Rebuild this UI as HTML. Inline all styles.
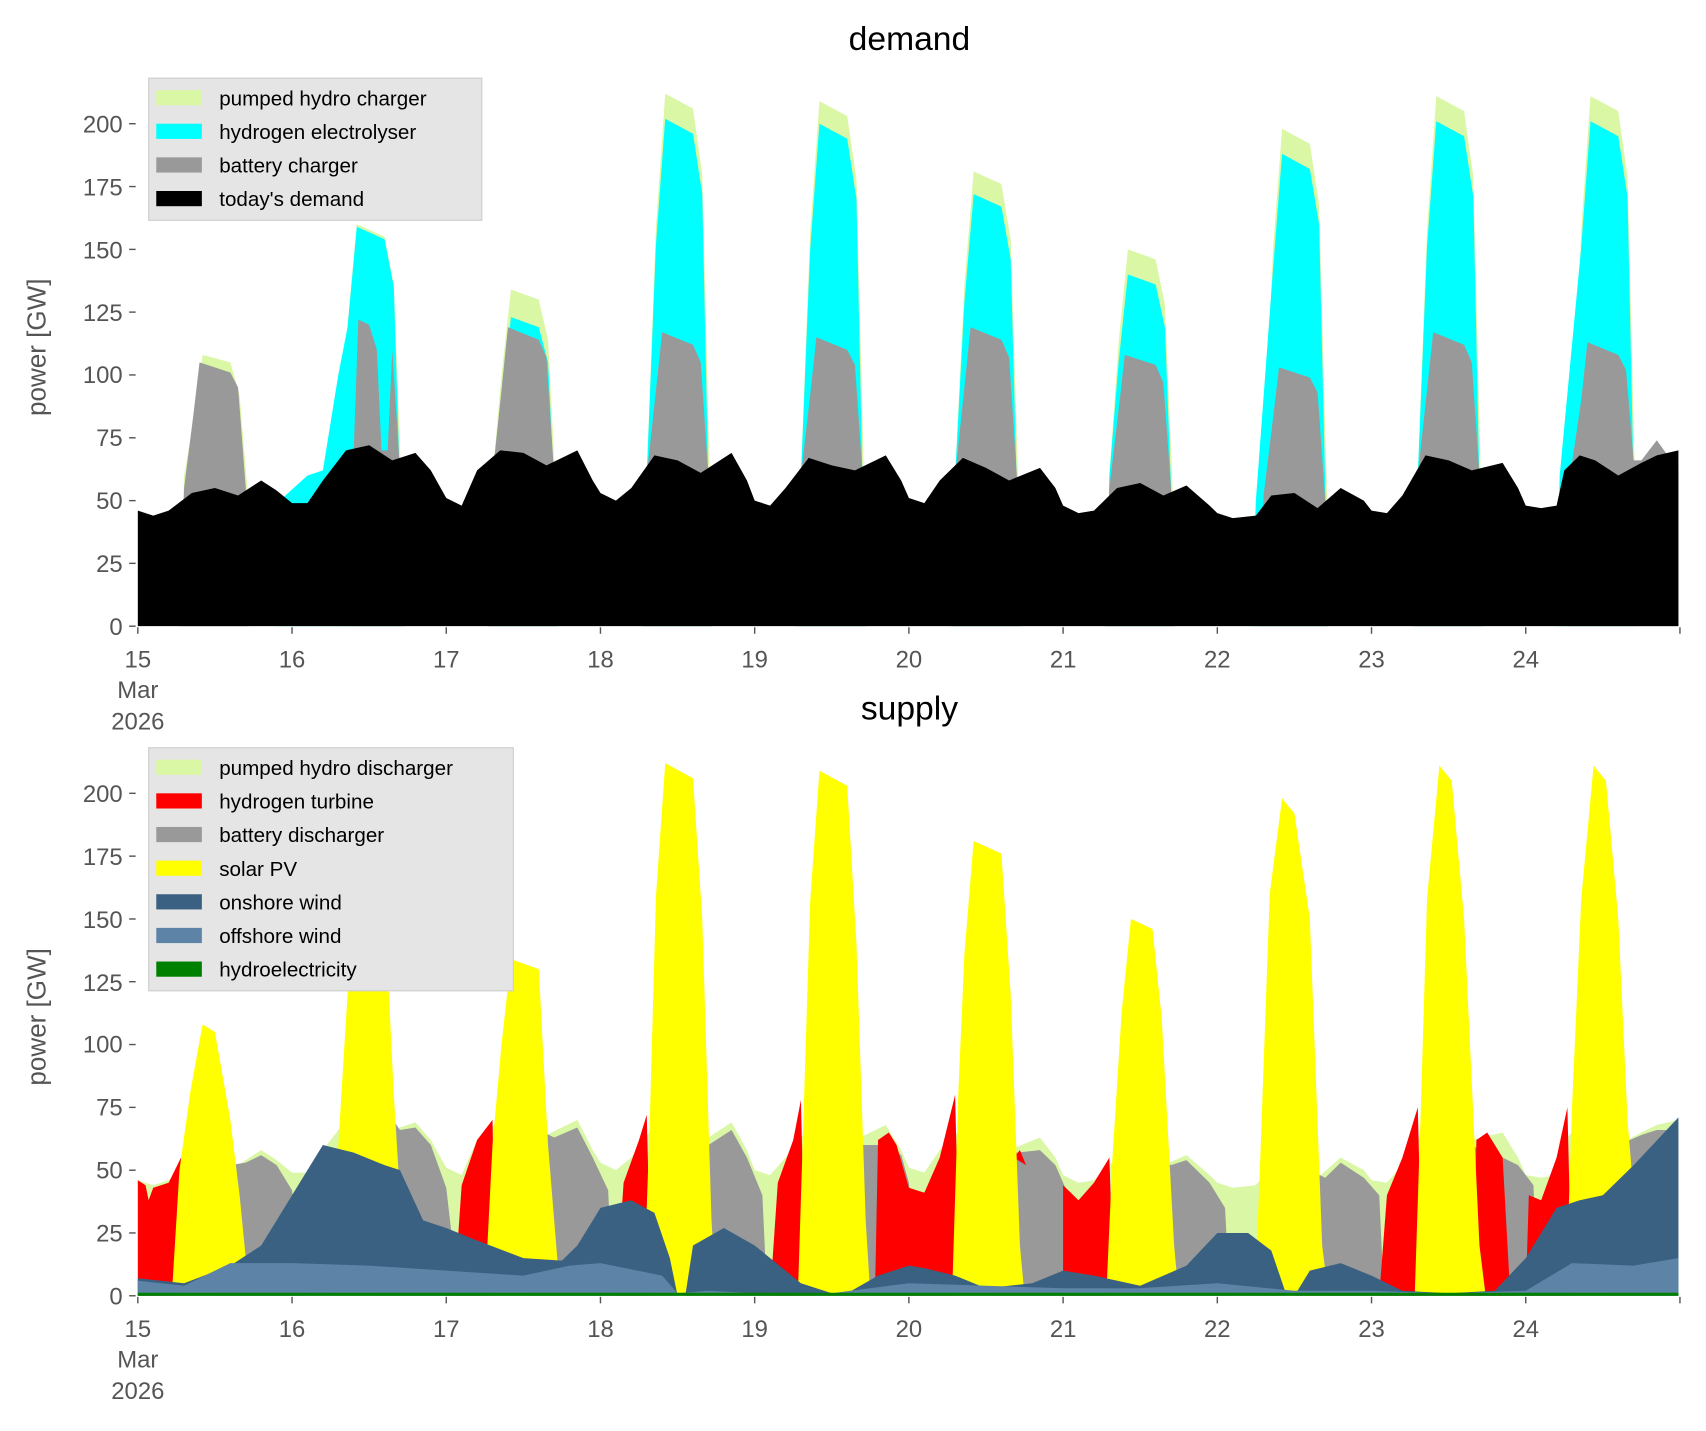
<!DOCTYPE html>
<html><head><meta charset="utf-8"><style>body{margin:0;background:#fff}svg{display:block}</style></head>
<body>
<svg xmlns="http://www.w3.org/2000/svg" width="1706" height="1431" viewBox="0 0 1572 1318.6" font-family="Liberation Sans, DejaVu Sans, sans-serif">
<rect width="1572" height="1319" fill="#fff"/>
<defs>
<polygon id="base" points="0,0 0,46 .1,44 .2,46 .35,53 .5,55 .65,52 .8,58 .9,54 1,49 1.1,49 1.2,58 1.35,70 1.5,72 1.65,66 1.8,69 1.9,62 2,51 2.1,48 2.2,62 2.35,70 2.5,69 2.65,64 2.85,70 2.95,58 3,53 3.1,50 3.2,55 3.35,68 3.5,66 3.65,61 3.85,69 3.95,58 4,50 4.1,48 4.2,55 4.35,67 4.5,64 4.65,62 4.85,68 4.95,58 5,51 5.1,49 5.2,58 5.35,67 5.5,63 5.65,58 5.85,63 5.95,55 6,48 6.1,45 6.2,46 6.35,55 6.5,57 6.65,52 6.8,56 6.95,48 7,45 7.1,43 7.25,44 7.35,52 7.5,53 7.65,47 7.8,55 7.95,50 8,46 8.1,45 8.2,52 8.35,68 8.5,66 8.65,62 8.85,65 8.95,55 9,48 9.1,47 9.2,48 9.25,62 9.35,68 9.45,66 9.6,60 9.75,65 9.85,68 9.99,70 9.99,0"/>
</defs>

<!-- DEMAND -->
<g transform="translate(127,577) scale(142.1,-2.315)">
<g fill="#d9f7a5">
<polygon points="0.27,0 0.3,60 0.36,81 0.42,108 0.6,105 0.66,92 0.71,55 0.73,0"/>
<polygon points="1.27,0 1.3,60 1.36,120 1.42,160 1.6,155 1.66,136 1.71,55 1.73,0"/>
<polygon points="2.27,0 2.3,60 2.36,101 2.42,134 2.6,130 2.66,114 2.71,55 2.73,0"/>
<polygon points="3.27,0 3.3,60 3.36,159 3.42,212 3.6,206 3.66,180 3.71,55 3.73,0"/>
<polygon points="4.27,0 4.3,60 4.36,157 4.42,209 4.6,203 4.66,178 4.71,55 4.73,0"/>
<polygon points="5.27,0 5.3,60 5.36,136 5.42,181 5.6,176 5.66,154 5.71,55 5.73,0"/>
<polygon points="6.27,0 6.3,60 6.36,113 6.42,150 6.6,146 6.66,128 6.71,55 6.73,0"/>
<polygon points="7.27,0 7.3,60 7.36,149 7.42,198 7.6,192 7.66,168 7.71,55 7.73,0"/>
<polygon points="8.27,0 8.3,60 8.36,158 8.42,211 8.6,205 8.66,179 8.71,55 8.73,0"/>
<polygon points="9.27,0 9.3,60 9.36,158 9.42,211 9.6,205 9.66,179 9.71,55 9.73,0"/>
</g>
<g fill="#00ffff">
<polygon points="0.9,0 0.92,50 1.1,60 1.2,62 1.3,100 1.36,119 1.42,159 1.6,154 1.66,135 1.7,55 1.72,0"/>
<polygon points="2.28,0 2.3,60 2.36,92 2.42,123 2.6,119 2.66,105 2.7,55 2.72,0"/>
<polygon points="3.28,0 3.3,60 3.36,152 3.42,202 3.6,196 3.66,172 3.7,55 3.72,0"/>
<polygon points="4.28,0 4.3,60 4.36,150 4.42,200 4.6,194 4.66,170 4.7,55 4.72,0"/>
<polygon points="5.28,0 5.3,60 5.36,129 5.42,172 5.6,167 5.66,146 5.7,55 5.72,0"/>
<polygon points="6.28,0 6.3,60 6.36,105 6.42,140 6.6,136 6.66,119 6.7,55 6.72,0"/>
<polygon points="7.22,0 7.25,50 7.36,141 7.42,188 7.6,182 7.66,160 7.7,55 7.72,0"/>
<polygon points="8.28,0 8.3,60 8.36,151 8.42,201 8.6,195 8.66,171 8.7,55 8.72,0"/>
<polygon points="9.2,0 9.22,60 9.36,151 9.42,201 9.6,195 9.66,171 9.7,55 9.72,0"/>
</g>
<g fill="#999">
<polygon points="0.27,0 0.3,55 0.36,84 0.4,105 0.6,101 0.65,95 0.7,55 0.72,0"/>
<polygon points="1.38,0 1.4,70 1.43,122 1.5,120 1.55,110 1.58,70 1.62,70 1.65,110 1.7,62 1.72,0"/>
<polygon points="2.27,0 2.3,60 2.36,95 2.4,119 2.6,114 2.65,107 2.7,60 2.72,0"/>
<polygon points="3.27,0 3.3,60 3.36,94 3.4,117 3.6,112 3.65,105 3.7,60 3.72,0"/>
<polygon points="4.27,0 4.3,60 4.36,92 4.4,115 4.6,110 4.65,104 4.7,60 4.72,0"/>
<polygon points="5.27,0 5.3,60 5.36,95 5.4,119 5.6,114 5.65,107 5.7,60 5.72,0"/>
<polygon points="6.27,0 6.3,55 6.36,86 6.4,108 6.6,104 6.65,97 6.7,55 6.72,0"/>
<polygon points="7.27,0 7.3,52 7.36,82 7.4,103 7.6,99 7.65,93 7.7,50 7.72,0"/>
<polygon points="8.27,0 8.3,60 8.36,94 8.4,117 8.6,112 8.65,105 8.7,60 8.72,0"/>
<polygon points="9.27,0 9.3,65 9.36,90 9.4,113 9.6,108 9.65,102 9.7,66 9.75,66 9.85,74 9.99,62 9.99,0"/>
</g>
<use href="#base" fill="#000"/>
</g>

<!-- SUPPLY -->
<g transform="translate(127,1194) scale(142.1,-2.315)">
<use href="#base" fill="#d9f7a5"/>
<g fill="#999">
<polygon points="0.55,0 0.6,52 0.7,53 0.8,56 0.9,52 1.0,42 1.08,0"/>
<polygon points="1.55,0 1.6,75 1.7,66 1.8,67 1.9,60 2.0,43 2.08,0"/>
<polygon points="2.55,0 2.6,66 2.7,63 2.85,67 2.95,55 3.05,42 3.08,0"/>
<polygon points="3.55,0 3.6,62 3.7,60 3.85,66 3.95,55 4.05,40 4.08,0"/>
<polygon points="4.55,0 4.6,62 4.7,60 4.85,60 4.95,56 5.0,45 5.05,0"/>
<polygon points="5.55,0 5.6,60 5.7,57 5.85,58 5.95,52 6.05,38 6.08,0"/>
<polygon points="6.55,0 6.6,55 6.7,52 6.8,54 6.95,45 7.05,35 7.08,0"/>
<polygon points="7.55,0 7.6,50 7.7,47 7.8,53 7.95,47 8.05,40 8.08,0"/>
<polygon points="8.55,0 8.6,62 8.7,58 8.85,55 8.95,52 9.05,44 9.08,0"/>
<polygon points="9.55,0 9.6,60 9.75,64 9.85,66 9.99,66 9.99,0"/>
</g>
<g fill="#ff0000">
<polygon points="0,0 0,46 .05,44 .07,38 .1,43 .2,45 .28,55 .3,0"/>
<polygon points="2.05,0 2.1,44 2.2,62 2.3,70 2.32,0"/>
<polygon points="3.1,0 3.15,45 3.25,62 3.3,72 3.33,0"/>
<polygon points="4.1,0 4.15,45 4.25,62 4.3,78 4.33,0"/>
<polygon points="4.78,0 4.8,62 4.87,65 4.92,60 5.0,43 5.1,41 5.2,55 5.3,80 5.33,0"/>
<polygon points="5.68,55 5.72,58 5.76,52"/>
<polygon points="6.0,0 6.0,44 6.1,38 6.2,45 6.3,55 6.33,0"/>
<polygon points="8.05,0 8.1,40 8.2,55 8.3,75 8.33,0"/>
<polygon points="8.66,0 8.68,62 8.75,65 8.85,55 8.9,0"/>
<polygon points="9.0,0 9.02,40 9.1,38 9.2,55 9.27,75 9.3,0"/>
</g>
<g fill="#ffff00">
<polygon points="0.22,0 0.27,50 0.34,81 0.42,108 0.5,105 0.6,70 0.66,40 0.7,15 0.72,0"/>
<polygon points="1.25,0 1.3,60 1.36,120 1.42,160 1.6,155 1.66,80 1.7,40 1.72,0"/>
<polygon points="2.25,0 2.3,60 2.36,101 2.42,134 2.6,130 2.66,60 2.72,15 2.74,0"/>
<polygon points="3.28,0 3.32,70 3.36,159 3.42,212 3.6,206 3.66,150 3.72,30 3.75,0"/>
<polygon points="4.28,0 4.32,78 4.36,157 4.42,209 4.6,203 4.66,140 4.72,30 4.75,0"/>
<polygon points="5.28,0 5.32,80 5.36,136 5.42,181 5.6,176 5.66,120 5.72,20 5.75,0"/>
<polygon points="6.28,0 6.32,55 6.38,113 6.44,150 6.58,146 6.64,110 6.72,20 6.75,0"/>
<polygon points="7.24,0 7.27,40 7.34,160 7.42,198 7.5,192 7.6,150 7.68,20 7.72,0"/>
<polygon points="8.28,0 8.32,75 8.36,158 8.44,211 8.52,205 8.6,150 8.7,20 8.74,0"/>
<polygon points="9.26,0 9.3,75 9.36,158 9.44,211 9.52,205 9.6,150 9.66,70 9.7,40 9.72,0"/>
</g>
<polygon fill="#3a6182" points="0,0 0,7 .3,5 .6,12 .8,20 1,40 1.2,60 1.4,57 1.6,52 1.7,50 1.85,30 2,27 2.2,22 2.5,15 2.75,14 2.85,20 3,35 3.2,38 3.35,33 3.45,15 3.5,0 3.55,0 3.6,20 3.8,27 4,20 4.3,5 4.5,1 4.6,1 4.8,8 5,12 5.1,11 5.3,8 5.5,3 5.8,5 6,10 6.2,8 6.5,4 6.8,12 7,25 7.2,25 7.35,18 7.45,0 7.5,0 7.6,10 7.8,13 8,8 8.2,2 8.5,1 8.8,2 9,15 9.2,35 9.35,38 9.5,40 9.7,52 9.99,71 9.99,0"/>
<polygon fill="#5d84a6" points="0,0 0,6 .3,4 .6,13 1,13 1.5,12 2,10 2.5,8 2.8,12 3,13 3.4,8 3.5,1 3.7,2 4,1 4.5,1 5,5 6,3 6.5,3 7,5 7.5,2 8,2 8.5,1 9,2 9.3,13 9.7,12 9.99,15 9.99,0"/>
<rect x="0" y="0" width="9.99" height="1.2" fill="#008000"/>
</g>

<!-- axes -->
<g fill="#555" font-size="22" text-anchor="end" stroke-width="1.3">
<g stroke="#555">
<line x1="119" x2="125" y1="577" y2="577"/><line x1="119" x2="125" y1="519.1" y2="519.1"/><line x1="119" x2="125" y1="461.3" y2="461.3"/><line x1="119" x2="125" y1="403.4" y2="403.4"/><line x1="119" x2="125" y1="345.5" y2="345.5"/><line x1="119" x2="125" y1="287.6" y2="287.6"/><line x1="119" x2="125" y1="229.8" y2="229.8"/><line x1="119" x2="125" y1="171.9" y2="171.9"/><line x1="119" x2="125" y1="114" y2="114"/>
<line x1="119" x2="125" y1="1194" y2="1194"/><line x1="119" x2="125" y1="1136.1" y2="1136.1"/><line x1="119" x2="125" y1="1078.3" y2="1078.3"/><line x1="119" x2="125" y1="1020.4" y2="1020.4"/><line x1="119" x2="125" y1="962.5" y2="962.5"/><line x1="119" x2="125" y1="904.6" y2="904.6"/><line x1="119" x2="125" y1="846.8" y2="846.8"/><line x1="119" x2="125" y1="788.9" y2="788.9"/><line x1="119" x2="125" y1="731" y2="731"/>
</g>
<text x="113" y="585">0</text><text x="113" y="527">25</text><text x="113" y="469">50</text><text x="113" y="411">75</text><text x="113" y="353">100</text><text x="113" y="296">125</text><text x="113" y="238">150</text><text x="113" y="180">175</text><text x="113" y="122">200</text>
<text x="113" y="1202">0</text><text x="113" y="1144">25</text><text x="113" y="1086">50</text><text x="113" y="1028">75</text><text x="113" y="970">100</text><text x="113" y="913">125</text><text x="113" y="855">150</text><text x="113" y="797">175</text><text x="113" y="739">200</text>
</g>
<g stroke="#555" stroke-width="1.3">
<line x1="127" x2="127" y1="578" y2="584"/><line x1="269.1" x2="269.1" y1="578" y2="584"/><line x1="411.2" x2="411.2" y1="578" y2="584"/><line x1="553.3" x2="553.3" y1="578" y2="584"/><line x1="695.4" x2="695.4" y1="578" y2="584"/><line x1="837.5" x2="837.5" y1="578" y2="584"/><line x1="979.6" x2="979.6" y1="578" y2="584"/><line x1="1121.7" x2="1121.7" y1="578" y2="584"/><line x1="1263.8" x2="1263.8" y1="578" y2="584"/><line x1="1405.9" x2="1405.9" y1="578" y2="584"/><line x1="1548" x2="1548" y1="578" y2="584"/>
<line x1="127" x2="127" y1="1195" y2="1201"/><line x1="269.1" x2="269.1" y1="1195" y2="1201"/><line x1="411.2" x2="411.2" y1="1195" y2="1201"/><line x1="553.3" x2="553.3" y1="1195" y2="1201"/><line x1="695.4" x2="695.4" y1="1195" y2="1201"/><line x1="837.5" x2="837.5" y1="1195" y2="1201"/><line x1="979.6" x2="979.6" y1="1195" y2="1201"/><line x1="1121.7" x2="1121.7" y1="1195" y2="1201"/><line x1="1263.8" x2="1263.8" y1="1195" y2="1201"/><line x1="1405.9" x2="1405.9" y1="1195" y2="1201"/><line x1="1548" x2="1548" y1="1195" y2="1201"/>
</g>
<g fill="#555" font-size="22" text-anchor="middle">
<text x="127" y="615">15</text><text x="269.1" y="615">16</text><text x="411.2" y="615">17</text><text x="553.3" y="615">18</text><text x="695.4" y="615">19</text><text x="837.5" y="615">20</text><text x="979.6" y="615">21</text><text x="1121.7" y="615">22</text><text x="1263.8" y="615">23</text><text x="1405.9" y="615">24</text>
<text x="127" y="643">Mar</text><text x="127" y="672">2026</text>
<text x="127" y="1232">15</text><text x="269.1" y="1232">16</text><text x="411.2" y="1232">17</text><text x="553.3" y="1232">18</text><text x="695.4" y="1232">19</text><text x="837.5" y="1232">20</text><text x="979.6" y="1232">21</text><text x="1121.7" y="1232">22</text><text x="1263.8" y="1232">23</text><text x="1405.9" y="1232">24</text>
<text x="127" y="1260">Mar</text><text x="127" y="1289">2026</text>
</g>

<text x="838" y="46" font-size="31" text-anchor="middle">demand</text>
<text x="838" y="663" font-size="31" text-anchor="middle">supply</text>
<text transform="translate(42,320) rotate(-90)" font-size="24" fill="#555" text-anchor="middle">power [GW]</text>
<text transform="translate(42,937) rotate(-90)" font-size="24" fill="#555" text-anchor="middle">power [GW]</text>

<rect x="137" y="72" width="307" height="131" fill="#e5e5e5" stroke="#ccc"/>
<rect x="144" y="83" width="42" height="14" fill="#d9f7a5"/><text x="202" y="97" font-size="19">pumped hydro charger</text>
<rect x="144" y="114" width="42" height="14" fill="#00ffff"/><text x="202" y="128" font-size="19">hydrogen electrolyser</text>
<rect x="144" y="145" width="42" height="14" fill="#999"/><text x="202" y="159" font-size="19">battery charger</text>
<rect x="144" y="176" width="42" height="14" fill="#000"/><text x="202" y="190" font-size="19">today's demand</text>
<rect x="137" y="689" width="336" height="224" fill="#e5e5e5" stroke="#ccc"/>
<rect x="144" y="700" width="42" height="14" fill="#d9f7a5"/><text x="202" y="714" font-size="19">pumped hydro discharger</text>
<rect x="144" y="731" width="42" height="14" fill="#ff0000"/><text x="202" y="745" font-size="19">hydrogen turbine</text>
<rect x="144" y="762" width="42" height="14" fill="#999"/><text x="202" y="776" font-size="19">battery discharger</text>
<rect x="144" y="793" width="42" height="14" fill="#ffff00"/><text x="202" y="807" font-size="19">solar PV</text>
<rect x="144" y="824" width="42" height="14" fill="#3a6182"/><text x="202" y="838" font-size="19">onshore wind</text>
<rect x="144" y="855" width="42" height="14" fill="#5d84a6"/><text x="202" y="869" font-size="19">offshore wind</text>
<rect x="144" y="886" width="42" height="14" fill="#008000"/><text x="202" y="900" font-size="19">hydroelectricity</text>
</svg>
</body></html>
